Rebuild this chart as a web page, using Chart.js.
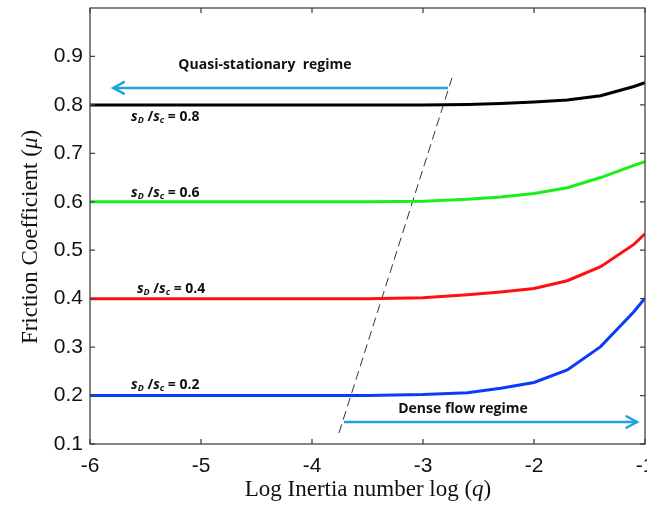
<!DOCTYPE html>
<html>
<head>
<meta charset="utf-8">
<script src="https://cdn.jsdelivr.net/npm/chart.js@4/dist/chart.umd.min.js"></script>
<style>
  html, body { margin: 0; padding: 0; background: #fff; overflow: hidden; }
  #wrap { position: absolute; left: 0; top: 0; width: 665px; height: 512px; }
</style>
</head>
<body>
<div id="wrap"><canvas id="chart" width="665" height="512"></canvas></div>
<script>
// log inertia number samples
const logQ = [-6, -5, -4, -3.5, -3, -2.6, -2.3, -2, -1.7, -1.4, -1.1, -1];

// friction coefficient for each sD/sc ratio
const mu08 = [0.8, 0.8, 0.8, 0.8, 0.8, 0.801, 0.803, 0.806, 0.810, 0.819, 0.838, 0.846];
const mu06 = [0.6, 0.6, 0.6, 0.6, 0.601, 0.605, 0.610, 0.617, 0.629, 0.650, 0.675, 0.683];
const mu04 = [0.4, 0.4, 0.4, 0.4, 0.402, 0.408, 0.414, 0.421, 0.437, 0.466, 0.512, 0.534];
const mu02 = [0.2, 0.2, 0.2, 0.2, 0.202, 0.206, 0.215, 0.227, 0.253, 0.301, 0.373, 0.401];

// regime boundary and arrows
const boundaryX = [-3.757, -2.739];
const boundaryY = [0.1227, 0.8556];
const quasiArrowX = [-2.775, -5.79];
const quasiArrowY = [0.835, 0.835];
const denseArrowX = [-3.712, -1.072];
const denseArrowY = [0.1454, 0.1454];

const xTicks = [-6, -5, -4, -3, -2, -1];
const yTicks = [0.1, 0.2, 0.3, 0.4, 0.5, 0.6, 0.7, 0.8, 0.9];

const ratioLabels = ['0.8', '0.6', '0.4', '0.2'];

const toPoints = (xs, ys) => xs.map((x, i) => ({ x, y: ys[i] }));

const curve = (ys, color) => ({
    data: toPoints(logQ, ys),
    borderColor: color,
    borderWidth: 3,
    pointRadius: 0,
    tension: 0,
    fill: false,
});

const arrowColor = '#1fa3dc';
const SANS = '"Liberation Sans", Arial, sans-serif';
const SERIF = '"Liberation Serif", "Times New Roman", serif';
const BOLD = '"Open Sans", "Noto Sans", sans-serif';

// draw a sequence of text runs with different fonts
const drawRuns = (ctx, runs, x, y, align) => {
    let total = 0;
    runs.forEach((r) => {
        ctx.font = r.font;
        total += ctx.measureText(r.text).width;
    });
    let cx = align === 'center' ? x - total / 2 : x;
    ctx.textAlign = 'left';
    ctx.textBaseline = 'alphabetic';
    runs.forEach((r) => {
        ctx.font = r.font;
        ctx.fillText(r.text, cx, y + (r.dy || 0));
        cx += ctx.measureText(r.text).width;
    });
};

const ratioRuns = (value) => [
    { text: 's', font: `italic bold 14px ${BOLD}` },
    { text: 'D', font: `italic bold 9px ${BOLD}`, dy: 2 },
    { text: ' /', font: `bold 14px ${BOLD}` },
    { text: 's', font: `italic bold 14px ${BOLD}` },
    { text: 'c', font: `italic bold 9px ${BOLD}`, dy: 2 },
    { text: ` = ${value}`, font: `bold 14px ${BOLD}` },
];

const annotations = {
    id: 'annotations',
    afterDatasetsDraw(chart) {
        const { ctx, chartArea: a, scales: { x, y } } = chart;
        ctx.save();

        // arrow heads at the last point of each arrow dataset
        [4, 5].forEach((idx) => {
            const pts = chart.getDatasetMeta(idx).data;
            const tip = pts[pts.length - 1];
            const prev = pts[pts.length - 2];
            const ang = Math.atan2(tip.y - prev.y, tip.x - prev.x);
            ctx.strokeStyle = arrowColor;
            ctx.lineWidth = 2.5;
            ctx.lineCap = 'round';
            ctx.beginPath();
            ctx.moveTo(tip.x - 12 * Math.cos(ang - 0.5), tip.y - 12 * Math.sin(ang - 0.5));
            ctx.lineTo(tip.x, tip.y);
            ctx.lineTo(tip.x - 12 * Math.cos(ang + 0.5), tip.y - 12 * Math.sin(ang + 0.5));
            ctx.stroke();
        });

        // box and inward ticks
        ctx.strokeStyle = '#444';
        ctx.lineWidth = 1.3;
        ctx.lineCap = 'butt';
        ctx.strokeRect(a.left, a.top, a.right - a.left, a.bottom - a.top);
        ctx.beginPath();
        x.ticks.forEach((t) => {
            const px = x.getPixelForValue(t.value);
            ctx.moveTo(px, a.bottom); ctx.lineTo(px, a.bottom - 5);
            ctx.moveTo(px, a.top); ctx.lineTo(px, a.top + 5);
        });
        y.ticks.forEach((t) => {
            const py = y.getPixelForValue(t.value);
            ctx.moveTo(a.left, py); ctx.lineTo(a.left + 5, py);
            ctx.moveTo(a.right, py); ctx.lineTo(a.right - 5, py);
        });
        ctx.stroke();

        // text labels
        ctx.fillStyle = '#111';
        const labelPos = [[-5.63, 0.767], [-5.63, 0.610], [-5.577, 0.412], [-5.63, 0.2135]];
        ratioLabels.forEach((v, i) => {
            drawRuns(ctx, ratioRuns(v), x.getPixelForValue(labelPos[i][0]), y.getPixelForValue(labelPos[i][1]), 'left');
        });
        drawRuns(ctx, [{ text: 'Quasi-stationary  regime', font: `bold 14px ${BOLD}` }],
            x.getPixelForValue(-4.424), y.getPixelForValue(0.874), 'center');
        drawRuns(ctx, [{ text: 'Dense flow regime', font: `bold 14px ${BOLD}` }],
            x.getPixelForValue(-2.64), y.getPixelForValue(0.164), 'center');

        // axis titles
        ctx.fillStyle = '#111';
        drawRuns(ctx, [
            { text: 'Log Inertia number log (', font: `23px ${SERIF}` },
            { text: 'q', font: `italic 23px ${SERIF}` },
            { text: ')', font: `23px ${SERIF}` },
        ], 368, 496, 'center');

        ctx.translate(37, 237);
        ctx.rotate(-Math.PI / 2);
        drawRuns(ctx, [
            { text: 'Friction Coefficient (', font: `23px ${SERIF}` },
            { text: 'μ', font: `italic 23px ${SERIF}` },
            { text: ')', font: `23px ${SERIF}` },
        ], 0, 0, 'center');

        ctx.restore();
    },
};

new Chart(document.getElementById('chart'), {
    type: 'line',
    data: {
        datasets: [
            curve(mu08, '#000000'),
            curve(mu06, '#19f019'),
            curve(mu04, '#ff1010'),
            curve(mu02, '#0a3cf5'),
            {
                data: toPoints(quasiArrowX, quasiArrowY),
                borderColor: arrowColor,
                borderWidth: 2.5,
                pointRadius: 0,
            },
            {
                data: toPoints(denseArrowX, denseArrowY),
                borderColor: arrowColor,
                borderWidth: 2.5,
                pointRadius: 0,
            },
            {
                data: toPoints(boundaryX, boundaryY),
                borderColor: '#333',
                borderWidth: 1,
                borderDash: [9, 5],
                pointRadius: 0,
            },
        ],
    },
    options: {
        responsive: false,
        animation: false,
        layout: { padding: { top: 8, right: 20, left: 0, bottom: 0 } },
        plugins: {
            legend: { display: false },
            tooltip: { enabled: false },
        },
        scales: {
            x: {
                type: 'linear',
                min: -6,
                max: -1,
                afterBuildTicks: (scale) => { scale.ticks = xTicks.map((v) => ({ value: v })); },
                afterFit: (scale) => {
                    scale.height = 68;
                    scale.paddingLeft = 0;
                    scale.paddingRight = 0;
                },
                grid: { display: false, drawTicks: false },
                border: { display: false },
                ticks: {
                    padding: 10,
                    color: '#111',
                    font: { family: SANS, size: 21 },
                    maxRotation: 0,
                    callback: (v) => String(v),
                },
            },
            y: {
                type: 'linear',
                min: 0.1,
                max: 1.0,
                afterBuildTicks: (scale) => { scale.ticks = yTicks.map((v) => ({ value: v })); },
                afterFit: (scale) => {
                    scale.width = 90;
                    scale.paddingTop = 0;
                    scale.paddingBottom = 0;
                },
                grid: { display: false, drawTicks: false },
                border: { display: false },
                ticks: {
                    padding: 7,
                    color: '#111',
                    font: { family: SANS, size: 21 },
                    callback: (v) => v.toFixed(1),
                },
            },
        },
    },
    plugins: [annotations],
});
</script>
</body>
</html>
